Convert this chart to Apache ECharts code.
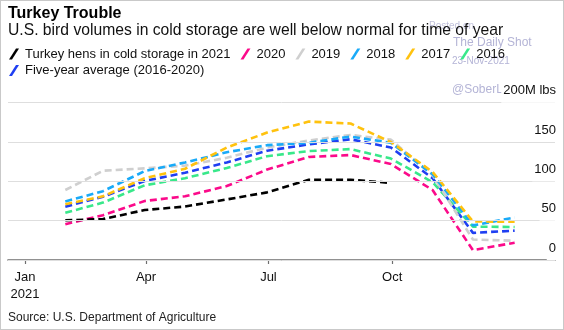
<!DOCTYPE html>
<html>
<head>
<meta charset="utf-8">
<script src="https://cdn.jsdelivr.net/npm/echarts@6/dist/echarts.min.js"></script>
<style>
  html, body { margin: 0; padding: 0; background: #fff; }
  #frame { position: relative; width: 564px; height: 330px; box-sizing: border-box; border: 1px solid #c9c9c9; }
  #chart { position: absolute; left: -1px; top: -1px; width: 564px; height: 330px; }
</style>
</head>
<body>
<div id="frame"><div id="chart"></div></div>
<script>
// Month-end stock of turkey hens in cold storage, millions of lbs
const monthEnds = ['2021-01-31', '2021-02-28', '2021-03-31', '2021-04-30', '2021-05-31', '2021-06-30',
                   '2021-07-31', '2021-08-31', '2021-09-30', '2021-10-31', '2021-11-30', '2021-12-31'];
const hens2021 = [50.5, 52, 63.5, 68, 77, 86, 102, 102, 98];
const hens2020 = [45.5, 57, 75, 81, 94, 115, 131, 133.5, 122, 89, 12.5, 22];
const hens2019 = [89, 113.5, 116.5, 120, 130, 143, 152, 159, 153, 108, 26, 24.5];
const hens2018 = [74.5, 87.5, 113, 124, 137, 146, 149, 157, 149, 109, 44, 54];
const hens2017 = [71, 81, 104, 116, 143, 162, 176, 173.5, 150, 112, 49, 48.7];
const hens2016 = [60, 73, 95, 104, 117, 132, 138.5, 141, 129, 99, 42.4, 42];
const fiveYearAvg = [67.8, 80.5, 100.5, 111, 124, 139, 147, 153.5, 143, 104, 34.5, 37.3];

const tickDates = ['2021-01-01', '2021-04-01', '2021-07-01', '2021-10-01'];
const tickLabels = ['Jan\n2021', 'Apr', 'Jul', 'Oct'];
const yTickLabels = { 0: '0', 50: '50', 100: '100', 150: '150', 200: '200M lbs' };

// x positions are days since 1 Jan 2021
const DAY = 86400000;
const base = Date.UTC(2021, 0, 1);
const dayOf = s => (Date.parse(s + 'T00:00:00Z') - base) / DAY;
const pairs = vals => vals.map((v, i) => [dayOf(monthEnds[i]), v]);
const tickDays = tickDates.map(dayOf);

const FONT = '"Liberation Sans", Arial, sans-serif';
const slash = 'path://M0,11 L7,0 L10,0 L3,11 Z';

const seriesDefs = [
  { name: 'Five-year average (2016-2020)', data: fiveYearAvg, color: '#1f3ff2' },
  { name: '2016', data: hens2016, color: '#38e88a' },
  { name: '2019', data: hens2019, color: '#cfcfcf' },
  { name: '2018', data: hens2018, color: '#19aaf8' },
  { name: '2017', data: hens2017, color: '#ffc20e' },
  { name: '2020', data: hens2020, color: '#fb0a8a' },
  { name: 'Turkey hens in cold storage in 2021', data: hens2021, color: '#000000' }
];

const chart = echarts.init(document.getElementById('chart'), null, { renderer: 'canvas' });

const legendCommon = {
  left: 9, padding: 0, orient: 'horizontal', icon: slash, itemWidth: 10, itemHeight: 11, itemGap: 10,
  selectedMode: false, itemStyle: { borderWidth: 0 },
  textStyle: { fontFamily: FONT, fontSize: 13, color: '#111', padding: [0, 0, 0, 1] }
};

chart.setOption({
  animation: false,
  textStyle: { fontFamily: FONT },
  title: {
    left: 8, top: 5, padding: 0, itemGap: 0,
    text: 'Turkey Trouble',
    textStyle: { fontFamily: FONT, fontSize: 16, fontWeight: 'bold', color: '#000', lineHeight: 17 },
    subtext: 'U.S. bird volumes in cold storage are well below normal for time of year',
    subtextStyle: { fontFamily: FONT, fontSize: 15.7, color: '#111', lineHeight: 18 }
  },
  legend: [
    Object.assign({}, legendCommon, { top: 47.5,
      data: ['Turkey hens in cold storage in 2021', '2020', '2019', '2018', '2017', '2016'] }),
    Object.assign({}, legendCommon, { top: 64, data: ['Five-year average (2016-2020)'] })
  ],
  graphic: [
    { type: 'text', left: 429, top: 21.5, z: 0, silent: true,
      style: { text: 'Posted on', font: '10px ' + FONT, fill: '#c2c2dc' } },
    { type: 'text', left: 453, top: 36.5, z: 0, silent: true,
      style: { text: 'The Daily Shot', font: '12px ' + FONT, fill: '#b4b4d6' } },
    { type: 'text', left: 452, top: 56, z: 0, silent: true,
      style: { text: '23-Nov-2021', font: '10px ' + FONT, fill: '#b4b4d6' } },
    { type: 'text', left: 452, top: 84, z: 0, silent: true,
      style: { text: '@SoberLook', font: '12px ' + FONT, fill: '#b4b4d6' } },
    { type: 'text', left: 8, top: 312, silent: true,
      style: { text: 'Source: U.S. Department of Agriculture', font: '12px ' + FONT, fill: '#222' } }
  ],
  grid: { left: 8, right: 9, top: 102.7, bottom: 70, containLabel: false },
  xAxis: {
    type: 'value', min: -12.6, max: 394,
    axisLine: { show: true, lineStyle: { color: '#6e6e6e', width: 1.6 } },
    axisTick: { show: true, length: 4, customValues: tickDays, lineStyle: { color: '#6e6e6e', width: 1.2 } },
    axisLabel: {
      customValues: tickDays, margin: 9, fontSize: 13, lineHeight: 17, color: '#111',
      formatter: v => tickLabels[tickDays.indexOf(v)]
    },
    splitLine: { show: false }
  },
  yAxis: {
    type: 'value', position: 'right', min: 0, max: 200, interval: 50, z: 10,
    axisLine: { show: false }, axisTick: { show: false },
    axisLabel: {
      inside: true, margin: -1, align: 'right', verticalAlign: 'bottom', lineHeight: 14,
      padding: [0, 0, 5, 2], backgroundColor: '#fff', fontSize: 13, color: '#111',
      formatter: v => yTickLabels[v]
    },
    splitLine: { lineStyle: { color: '#dedede', width: 1 } }
  },
  series: seriesDefs.map(s => ({
    name: s.name, type: 'line', data: pairs(s.data), color: s.color,
    showSymbol: false, symbol: 'none',
    lineStyle: { color: s.color, width: 2.6, type: [7, 4], cap: 'butt' }
  }))
});
</script>
</body>
</html>
